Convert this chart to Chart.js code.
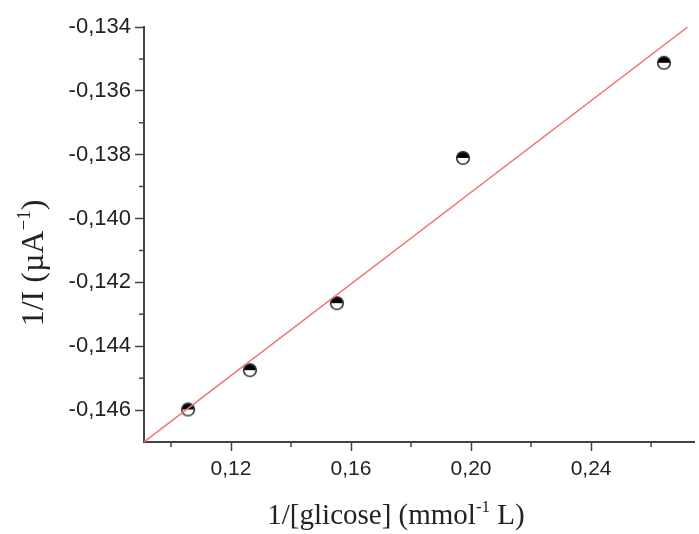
<!DOCTYPE html>
<html>
<head>
<meta charset="utf-8">
<script src="https://cdn.jsdelivr.net/npm/chart.js@4"></script>
<style>
  html, body { margin: 0; padding: 0; background: #fff; }
  #wrap { width: 699px; height: 534px; }
</style>
</head>
<body>
<div id="wrap"><canvas id="plot" width="699" height="534"></canvas></div>
<script>
// 1/[glucose] vs 1/I measurements
const invGlucose = [0.1057, 0.1263, 0.1553, 0.1973, 0.2643];
const invCurrent = [-0.14598, -0.14475, -0.14265, -0.13810, -0.13512];

// linear fit, end points
const fitX = [0.091, 0.2722];
const fitY = [-0.147, -0.134];

const xTicks = [0.12, 0.16, 0.20, 0.24];
const xMinor = [0.10, 0.14, 0.18, 0.22, 0.26];
const yTicks = [-0.146, -0.144, -0.142, -0.140, -0.138, -0.136, -0.134];
const yMinor = [-0.145, -0.143, -0.141, -0.139, -0.137, -0.135];

const AXIS = '#444';
const SERIF = '"Liberation Serif", "Times New Roman", serif';
const SANS = '"Liberation Sans", Arial, sans-serif';

// half-filled circle marker
function halfDot() {
    const c = document.createElement('canvas');
    c.width = 16; c.height = 16;
    const g = c.getContext('2d');
    g.beginPath();
    g.arc(8, 8, 6.3, 0, Math.PI * 2);
    g.fillStyle = '#fff';
    g.fill();
    g.beginPath();
    g.arc(8, 8, 6.3, Math.PI, Math.PI * 2);
    g.closePath();
    g.fillStyle = '#000';
    g.fill();
    g.beginPath();
    g.arc(8, 8, 6.3, 0, Math.PI * 2);
    g.lineWidth = 1.6;
    g.strokeStyle = '#333';
    g.stroke();
    return c;
}

const comma = (v, d) => v.toFixed(d).replace('.', ',');

// short outer ticks between the labelled ones
const minorTicks = {
    id: 'minorTicks',
    afterDraw(chart) {
        const { ctx, chartArea, scales } = chart;
        ctx.save();
        ctx.strokeStyle = AXIS;
        ctx.lineWidth = 1.5;
        ctx.beginPath();
        xMinor.forEach((v) => {
            const px = scales.x.getPixelForValue(v);
            if (px < chartArea.left || px > chartArea.right) return;
            ctx.moveTo(px, chartArea.bottom);
            ctx.lineTo(px, chartArea.bottom + 5);
        });
        yMinor.forEach((v) => {
            const py = scales.y.getPixelForValue(v);
            ctx.moveTo(chartArea.left, py);
            ctx.lineTo(chartArea.left - 5, py);
        });
        ctx.stroke();
        ctx.restore();
    }
};

// text runs with a raised part
function drawRuns(ctx, runs, size, cx, baseline) {
    const supSize = Math.round(size * 0.6);
    let total = 0;
    runs.forEach((r) => {
        ctx.font = (r.sup ? supSize : size) + 'px ' + SERIF;
        r.w = ctx.measureText(r.t).width;
        total += r.w;
    });
    let x = cx - total / 2;
    runs.forEach((r) => {
        ctx.font = (r.sup ? supSize : size) + 'px ' + SERIF;
        ctx.fillText(r.t, x, r.sup ? baseline - size * 0.42 : baseline);
        x += r.w;
    });
}

const axisTitles = {
    id: 'axisTitles',
    afterDraw(chart) {
        const ctx = chart.ctx;
        ctx.save();
        ctx.fillStyle = '#222';
        ctx.textBaseline = 'alphabetic';
        ctx.textAlign = 'left';
        drawRuns(ctx, [{ t: '1/[glicose] (mmol' }, { t: '-1', sup: true }, { t: ' L)' }], 29, 396, 524);
        ctx.translate(43, 263);
        ctx.rotate(-Math.PI / 2);
        drawRuns(ctx, [{ t: '1/I (\u00b5A' }, { t: '\u22121', sup: true }, { t: ')' }], 32, 0, 0);
        ctx.restore();
    }
};

new Chart(document.getElementById('plot'), {
    type: 'scatter',
    data: {
        datasets: [
            {
                type: 'line',
                data: fitX.map((x, i) => ({ x, y: fitY[i] })),
                borderColor: '#f27676',
                borderWidth: 1.5,
                pointRadius: 0,
                order: 0
            },
            {
                data: invGlucose.map((x, i) => ({ x, y: invCurrent[i] })),
                pointStyle: halfDot(),
                order: 1
            }
        ]
    },
    options: {
        responsive: false,
        animation: false,
        layout: { padding: { top: 27, right: 0, bottom: 0, left: 0 } },
        plugins: { legend: { display: false }, tooltip: { enabled: false } },
        scales: {
            x: {
                type: 'linear',
                min: 0.091,
                max: 0.2743,
                afterBuildTicks: (s) => { s.ticks = xTicks.map((value) => ({ value })); },
                afterFit: (s) => { s.height = 92; },
                border: { color: AXIS, width: 2 },
                grid: { drawOnChartArea: false, tickLength: 9, tickWidth: 1.5, tickColor: AXIS },
                ticks: {
                    color: '#222',
                    padding: 6,
                    maxRotation: 0,
                    font: { family: SANS, size: 21 },
                    callback: (v) => comma(v, 2)
                }
            },
            y: {
                type: 'linear',
                min: -0.147,
                max: -0.134,
                afterBuildTicks: (s) => { s.ticks = yTicks.map((value) => ({ value })); },
                afterFit: (s) => { s.width = 144; },
                border: { color: AXIS, width: 2 },
                grid: { drawOnChartArea: false, tickLength: 9, tickWidth: 1.5, tickColor: AXIS },
                ticks: {
                    color: '#222',
                    padding: 4,
                    font: { family: SANS, size: 22 },
                    callback: (v) => comma(v, 3)
                }
            }
        }
    },
    plugins: [minorTicks, axisTitles]
});
</script>
</body>
</html>
